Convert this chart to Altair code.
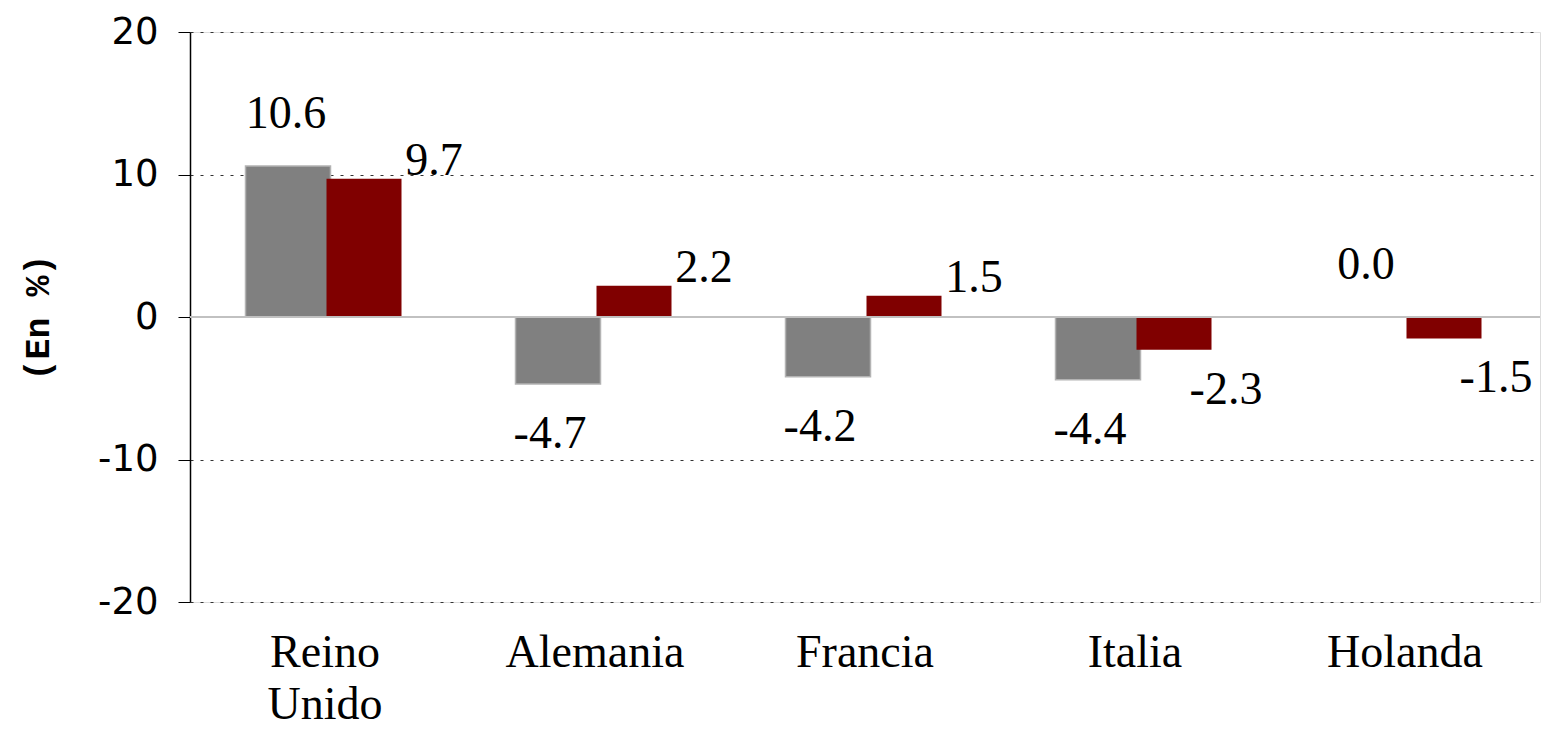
import altair as alt
import pandas as pd

categorias = ["Reino Unido", "Alemania", "Francia", "Italia", "Holanda"]
serie_gris = [10.6, -4.7, -4.2, -4.4, 0.0]
serie_roja = [9.7, 2.2, 1.5, -2.3, -1.5]
y_ticks = [-20, -10, 0, 10, 20]

df_gris = pd.DataFrame({"categoria": categorias, "valor": serie_gris})
df_roja = pd.DataFrame({"categoria": categorias, "valor": serie_roja})

SERIF = "Liberation Serif"
label_expr = "replace(format(datum.valor, '.1f'), '\u2212', '-')"

x_enc = alt.X(
    "categoria:N",
    sort=categorias,
    scale=alt.Scale(paddingInner=0, paddingOuter=0),
    axis=alt.Axis(
        title=None,
        labelAngle=0,
        labelFont=SERIF,
        labelFontSize=46,
        labelColor="black",
        labelExpr="split(datum.label, ' ')",
        labelLineHeight=52,
        labelPadding=28,
        domain=False,
        ticks=False,
        grid=False,
    ),
)

y_enc = alt.Y(
    "valor:Q",
    scale=alt.Scale(domain=[-20, 20], nice=False),
    axis=alt.Axis(
        values=y_ticks,
        title="(En %)",
        titleFont="Liberation Mono",
        titleFontWeight="bold",
        titleFontSize=35,
        titleColor="black",
        titlePadding=42,
        labelFont="DejaVu Sans",
        labelFontSize=37,
        labelColor="black",
        labelPadding=20,
        labelExpr="toString(datum.value)",
        tickSize=12,
        tickColor="black",
        domainColor="black",
        domainWidth=1.5,
        grid=True,
        gridColor="#333333",
        gridDash=[3, 7],
        gridWidth=1.2,
        gridOpacity={"condition": {"test": "datum.value === 0", "value": 0}, "value": 1},
    ),
)

gris = alt.Chart(df_gris).mark_bar(
    width=85, xOffset=-37, color="#808080", stroke="#b3b3b3", strokeWidth=1.5
).encode(x=x_enc, y=y_enc, y2=alt.datum(0))

roja = alt.Chart(df_roja).mark_bar(
    width=75, xOffset=39, color="#800000"
).encode(x=alt.X("categoria:N", sort=categorias), y="valor:Q", y2=alt.datum(0))

cero = alt.Chart(df_gris).mark_rule(color="#c0c0c0", strokeWidth=1.5).encode(y=alt.datum(0))

def etiquetas(df, cond, x_off, dy):
    return (
        alt.Chart(df)
        .transform_filter(cond)
        .transform_calculate(etiqueta=label_expr)
        .mark_text(font=SERIF, fontSize=46, color="black", xOffset=x_off, dy=dy, baseline="middle")
        .encode(x=alt.X("categoria:N", sort=categorias), y="valor:Q", text="etiqueta:N")
    )

t_gris_pos = etiquetas(df_gris, "datum.valor >= 0", -39, -52)
t_gris_neg = etiquetas(df_gris, "datum.valor < 0", -45, 50)
t_roja_pos = etiquetas(df_roja, "datum.valor >= 0", 39 + 70, -18)
t_roja_neg = etiquetas(df_roja, "datum.valor < 0", 39 + 52, 40)

chart = (
    alt.layer(gris, roja, cero, t_gris_pos, t_gris_neg, t_roja_pos, t_roja_neg)
    .properties(
        width=1350,
        height=570,
        autosize=alt.AutoSizeParams(type="none"),
        padding={"left": 182, "top": 24, "right": 19, "bottom": 126},
    )
    .configure_view(stroke=None)
    .configure(background="white")
)

chart.save("out.html", embed_options={"renderer": "svg", "actions": False})
